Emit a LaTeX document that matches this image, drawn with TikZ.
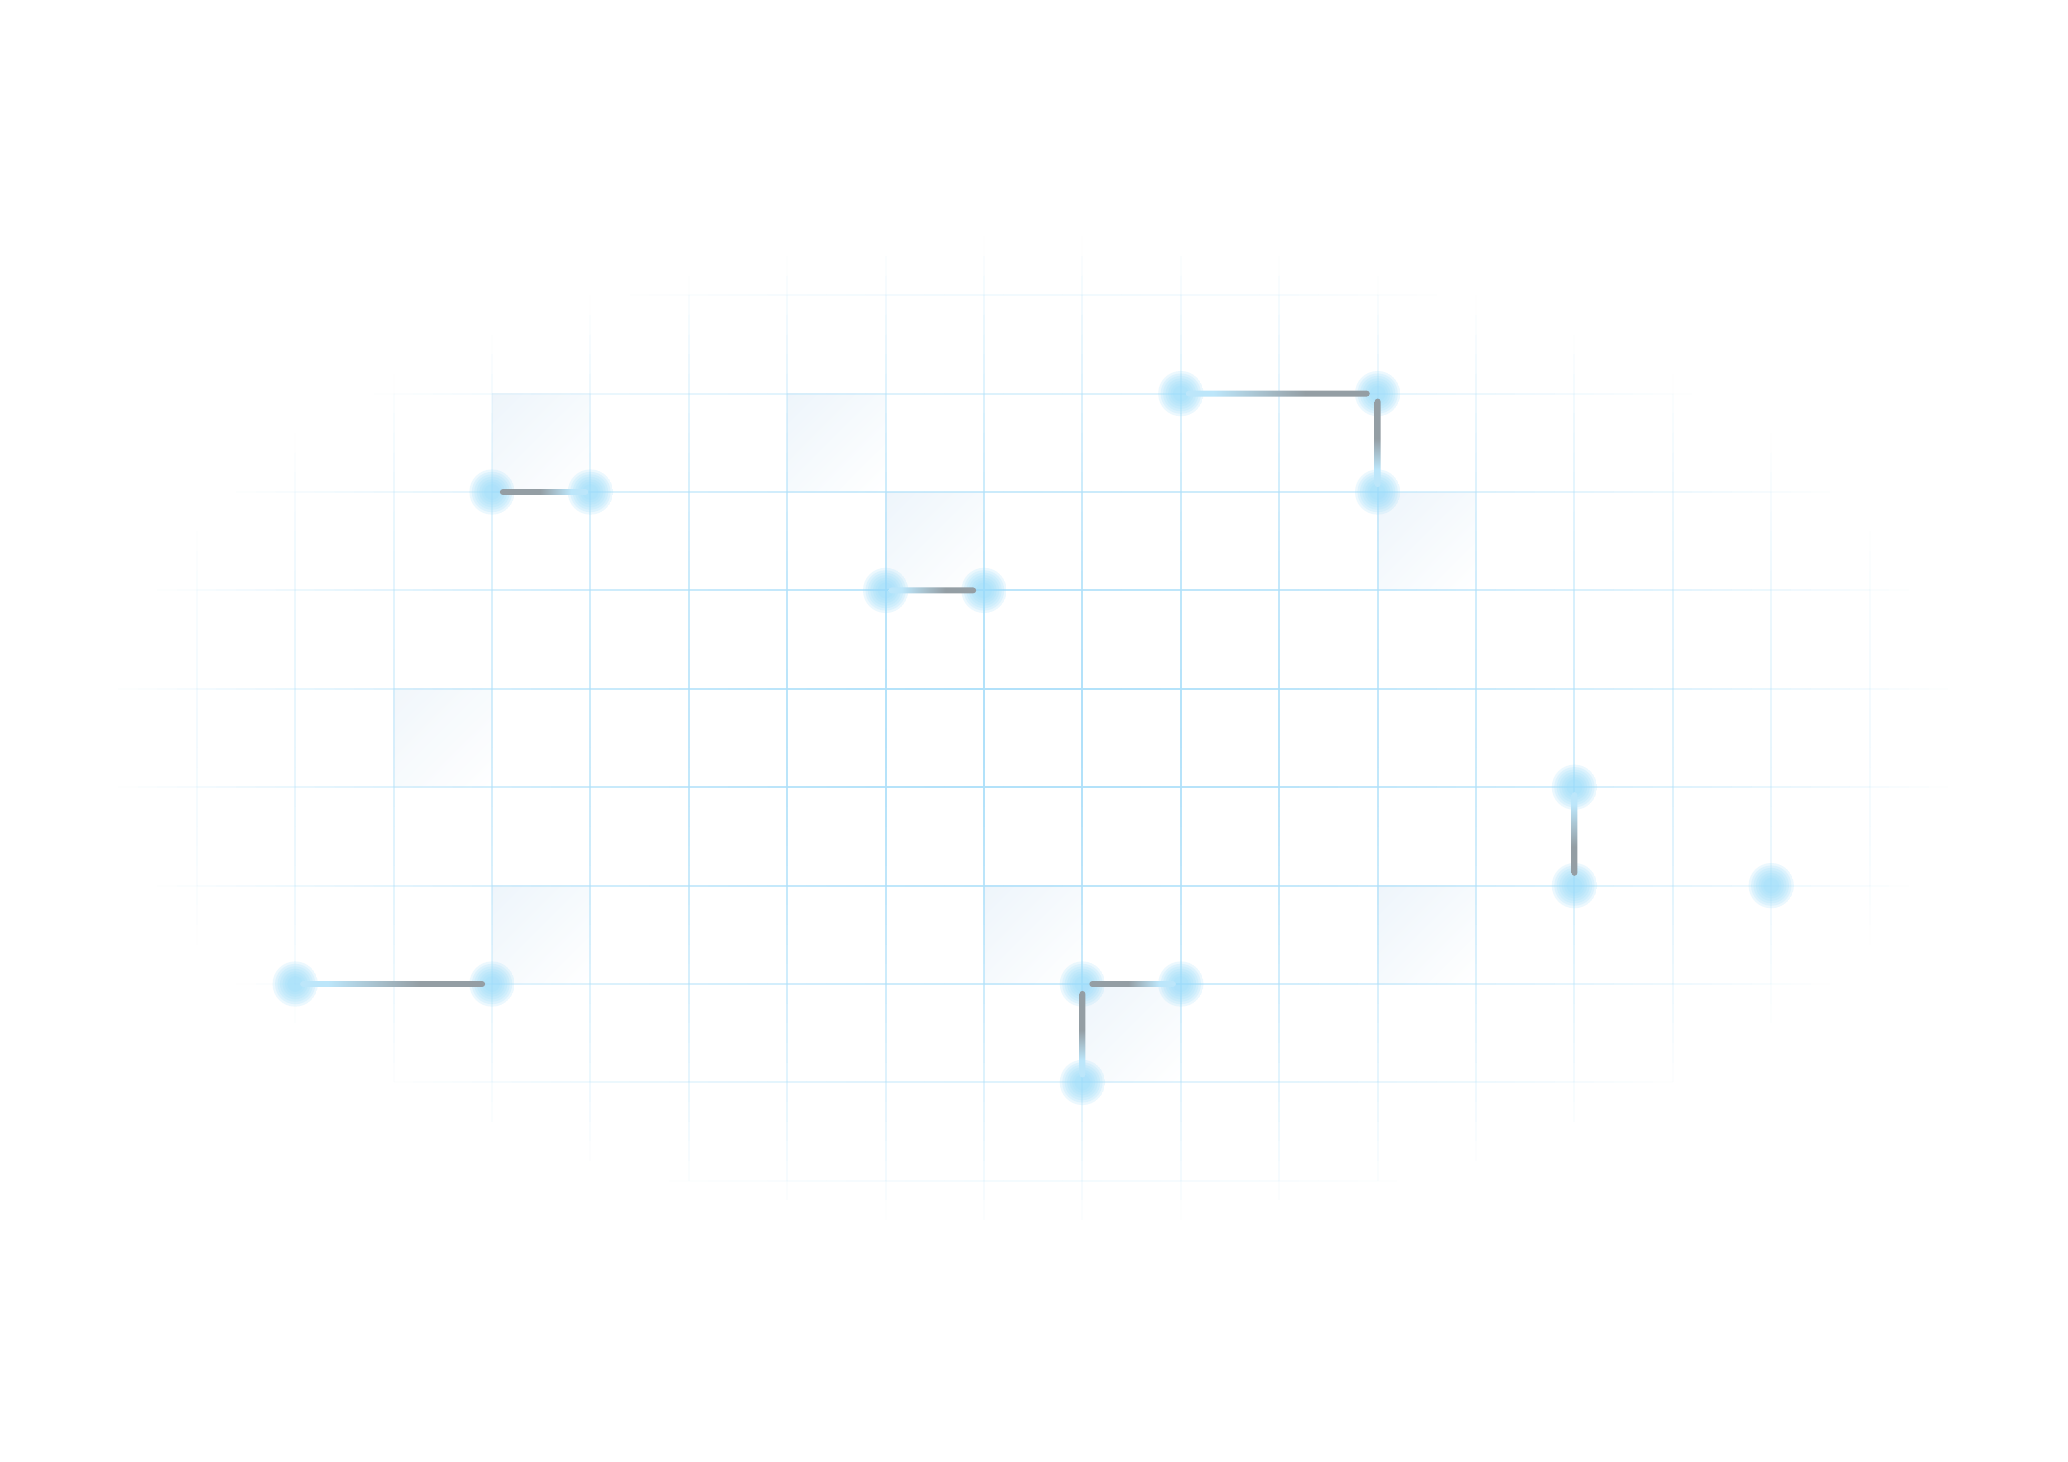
\documentclass[tikz,border=0pt]{standalone}
\usetikzlibrary{calc,shadings}
\definecolor{gridcol}{RGB}{176,225,250}
\definecolor{dotcol}{RGB}{152,220,250}
\definecolor{tracecol}{RGB}{148,158,164}
\definecolor{tblue}{RGB}{188,230,250}
\definecolor{cellcol}{RGB}{238,245,251}
\definecolor{cellmid}{RGB}{246,250,253}
% horizontal traces (0bp..100bp left to right, bbox = 25bp..75bp)
\pgfdeclarehorizontalshading{gbH}{100bp}{color(0bp)=(tracecol); color(47.5bp)=(tracecol); color(65bp)=(tblue); color(100bp)=(tblue)}
\pgfdeclarehorizontalshading{bgH}{100bp}{color(0bp)=(tblue); color(32.5bp)=(tblue); color(57.5bp)=(tracecol); color(100bp)=(tracecol)}
% vertical traces (0bp bottom .. 100bp top)
\pgfdeclareverticalshading{gbV}{100bp}{color(0bp)=(tblue); color(35bp)=(tblue); color(52.5bp)=(tracecol); color(100bp)=(tracecol)}
\pgfdeclareverticalshading{bgV}{100bp}{color(0bp)=(tracecol); color(42.5bp)=(tracecol); color(67.5bp)=(tblue); color(100bp)=(tblue)}
\tikzset{
  gridline/.style={draw=gridcol, line width=0.6pt},
  cell/.style={upper left=cellcol, upper right=cellmid, lower left=cellmid, lower right=white},
  dot/.style={circle, inner sep=0pt, minimum size=0.46cm,
    path picture={\foreach \rr in {0.23,0.205,0.18,0.155,0.13,0.105,0.08}{
      \fill[dotcol, fill opacity=0.18] (path picture bounding box.center) circle (\rr);}}},
  trace/.style={rounded corners=0.03cm},
}
\begin{document}
\begin{tikzpicture}[x=1cm,y=-1cm]
\path[use as bounding box, fill=white] (0,0) rectangle (21.016,14.848);
% faint cells
\foreach \cx/\cy/\co in {5/4/1, 8/4/1, 9/5/1, 14/5/1, 4/7/0.8, 5/9/1, 10/9/1, 11/10/1, 14/9/1}{
  \shade[cell, opacity=\co] (\cx,\cy) rectangle ++(1,1);
}
% grid with elliptical fade
\foreach \gx in {2,...,19}{
  \foreach \s in {0,...,54}{
    \pgfmathsetmacro{\ya}{2+0.2*\s}
    \pgfmathsetmacro{\dx}{(\gx-10.5)/9.4}
    \pgfmathsetmacro{\dy}{(\ya+0.1-7.45)/5.0}
    \pgfmathsetmacro{\rr}{sqrt(\dx*\dx+\dy*\dy)}
    \pgfmathsetmacro{\al}{1-\rr*sqrt(\rr)}
    \ifdim\al pt>0.01pt
      \draw[gridline, opacity=\al] (\gx,\ya) -- (\gx,\ya+0.2);
    \fi
  }
}
\foreach \gy in {3,...,12}{
  \foreach \s in {0,...,94}{
    \pgfmathsetmacro{\xa}{1+0.2*\s}
    \pgfmathsetmacro{\dx}{(\xa+0.1-10.5)/9.4}
    \pgfmathsetmacro{\dy}{(\gy-7.45)/5.0}
    \pgfmathsetmacro{\rr}{sqrt(\dx*\dx+\dy*\dy)}
    \pgfmathsetmacro{\al}{1-\rr*sqrt(\rr)}
    \ifdim\al pt>0.01pt
      \draw[gridline, opacity=\al] (\xa,\gy) -- (\xa+0.2,\gy);
    \fi
  }
}
% glowing dots
\node[dot] (a1) at (5,5) {};
\node[dot] (a2) at (6,5) {};
\node[dot] (b1) at (9,6) {};
\node[dot] (b2) at (10,6) {};
\node[dot] (c1) at (12,4) {};
\node[dot] (c2) at (14,4) {};
\node[dot] (c3) at (14,5) {};
\node[dot] (d1) at (16,8) {};
\node[dot] (d2) at (16,9) {};
\node[dot] (g1) at (18,9) {};
\node[dot] (e1) at (3,10) {};
\node[dot] (e2) at (5,10) {};
\node[dot] (f1) at (11,10) {};
\node[dot] (f2) at (12,10) {};
\node[dot] (f3) at (11,11) {};
% traces
\shade[trace, shading=gbH] ($(a1.center)+(0.08,-0.03)$) rectangle ($(a2.center)+(-0.02,0.03)$);
\shade[trace, shading=bgH] ($(b1.center)+(0.03,-0.03)$) rectangle ($(b2.center)+(-0.08,0.03)$);
\shade[trace, shading=bgH] ($(c1.center)+(0.05,-0.03)$) rectangle ($(c2.center)+(-0.08,0.03)$);
\shade[trace, shading=gbV] ($(c2.center)+(-0.03,0.05)$) rectangle ($(c3.center)+(0.03,-0.05)$);
\shade[trace, shading=bgV] ($(d1.center)+(-0.03,0.05)$) rectangle ($(d2.center)+(0.03,-0.1)$);
\shade[trace, shading=bgH] ($(e1.center)+(0.05,-0.03)$) rectangle ($(e2.center)+(-0.07,0.03)$);
\shade[trace, shading=gbH] ($(f1.center)+(0.07,-0.03)$) rectangle ($(f2.center)+(-0.05,0.03)$);
\shade[trace, shading=gbV] ($(f1.center)+(-0.03,0.07)$) rectangle ($(f3.center)+(0.03,-0.05)$);
\end{tikzpicture}
\end{document}
